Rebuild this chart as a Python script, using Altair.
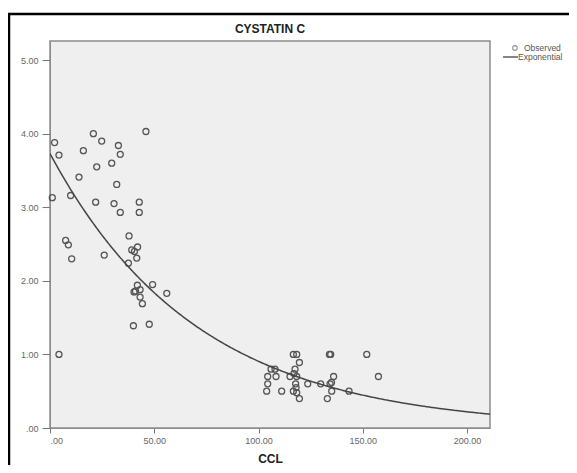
import altair as alt
import pandas as pd

ccl = [20.8, 46.0, 2.2, 24.8, 32.8, 16.0, 4.3, 33.7, 29.6, 22.4,
       13.9, 32.0, 1.1, 9.9, 21.9, 30.7, 42.8, 33.7, 42.8, 37.9,
       7.5, 8.8, 42.0, 39.2, 40.5, 10.4, 26.0, 41.6, 37.6, 41.9,
       49.2, 43.2, 40.3, 41.0, 56.0, 43.2, 44.3, 40.0, 47.6, 4.3,
       116.7, 118.3, 134.0, 134.6, 151.9, 119.6, 106.0, 107.9, 117.5, 104.4,
       108.4, 115.1, 118.3, 117.0, 136.0, 157.5, 104.4, 117.8, 123.6, 129.8,
       134.3, 135.0, 103.9, 111.1, 116.7, 118.3, 135.1, 143.4, 119.6, 133.0,
       118.0]
cystatin = [4.00, 4.03, 3.88, 3.90, 3.84, 3.77, 3.71, 3.72, 3.60, 3.55,
            3.41, 3.31, 3.13, 3.16, 3.07, 3.05, 3.07, 2.93, 2.93, 2.61,
            2.55, 2.49, 2.46, 2.42, 2.40, 2.30, 2.35, 2.31, 2.24, 1.94,
            1.95, 1.88, 1.85, 1.86, 1.83, 1.78, 1.69, 1.39, 1.41, 1.00,
            1.00, 1.00, 1.00, 1.00, 1.00, 0.89, 0.80, 0.80, 0.80, 0.70,
            0.70, 0.70, 0.70, 0.74, 0.70, 0.70, 0.60, 0.60, 0.60, 0.60,
            0.60, 0.62, 0.50, 0.50, 0.50, 0.48, 0.50, 0.50, 0.40, 0.40,
            0.55]

# Exponential fit coefficients: y = a * exp(b * x)
fit_a = 3.73
fit_b = -0.01415

x_ticks = [0, 50, 100, 150, 200]
y_ticks = [0, 1, 2, 3, 4, 5]
legend_labels = ["Observed", "Exponential"]
chart_title = "CYSTATIN C"

FONT = "Liberation Sans"
W, H = 440, 387

obs = pd.DataFrame({"CCL": ccl, "CYS": cystatin})

x_scale = alt.Scale(domain=[0, 211], nice=False, zero=False)
y_scale = alt.Scale(domain=[0, 5.26], nice=False, zero=False)

fmt = "datum.value == 0 ? '.00' : format(datum.value, '.2f')"

x_axis = alt.Axis(values=x_ticks, labelExpr=fmt, grid=False, title="CCL",
                  tickSize=5, tickColor="#777", domainColor="#8c8c8c",
                  labelColor="#666", labelFontSize=9, labelFont=FONT, labelPadding=3,
                  titleFont=FONT, titleFontSize=12, titleFontWeight="bold",
                  titleColor="#222", titleBaseline="alphabetic", titleY=34)
y_axis = alt.Axis(values=y_ticks, labelExpr=fmt, grid=False, title=None,
                  tickSize=8, tickColor="#777", domainColor="#8c8c8c",
                  labelColor="#666", labelFontSize=9, labelFont=FONT, labelPadding=4)

points = alt.Chart(obs).mark_point(
    shape="circle", filled=False, size=36, stroke="#555", strokeWidth=1.3, opacity=1
).encode(
    x=alt.X("CCL:Q", scale=x_scale, axis=x_axis),
    y=alt.Y("CYS:Q", scale=y_scale, axis=y_axis),
)

curve = alt.Chart(alt.sequence(0, 211.5, 0.5, as_="CCL")).transform_calculate(
    CYS=f"{fit_a} * exp({fit_b} * datum.CCL)"
).mark_line(color="#444", strokeWidth=1.5, clip=True).encode(
    x=alt.X("CCL:Q", scale=x_scale),
    y=alt.Y("CYS:Q", scale=y_scale),
)

one = alt.Data(values=[{"k": 0}])

title_txt = alt.Chart(alt.Data(values=[{"t": chart_title}])).mark_text(
    font=FONT, fontSize=12, fontWeight="bold", color="#222",
    align="center", baseline="middle"
).encode(text="t:N", x=alt.value(W / 2), y=alt.value(-12))

leg_pt = alt.Chart(one).mark_point(shape="circle", filled=False, size=22,
                                   stroke="#666", strokeWidth=1.1).encode(
    x=alt.value(465), y=alt.value(7))
leg_line = alt.Chart(one).mark_rule(color="#444", strokeWidth=1.3).encode(
    x=alt.value(453), x2=alt.value(468), y=alt.value(16))
leg_txt = alt.Chart(pd.DataFrame({"t": legend_labels, "yy": [7, 16], "xx": [474, 468]})).mark_text(
    align="left", baseline="middle", font=FONT, fontSize=8.5, color="#555"
).encode(text="t:N", x=alt.X("xx:Q", scale=None), y=alt.Y("yy:Q", scale=None))

frame_left = alt.Chart(one).mark_rule(color="black", strokeWidth=2.5).encode(
    x=alt.value(-41), y=alt.value(-28), y2=alt.value(428))
frame_top = alt.Chart(one).mark_rule(color="black", strokeWidth=2.5).encode(
    x=alt.value(-42), x2=alt.value(527), y=alt.value(-27))

chart = alt.layer(points, curve, title_txt, leg_pt, leg_line, leg_txt,
                  frame_left, frame_top).properties(
    width=W, height=H,
    autosize=alt.AutoSizeParams(type="none"),
    padding={"left": 42, "top": 33, "right": 79, "bottom": 37},
    background="white",
).configure_view(
    fill="#efefef", stroke="#8c8c8c", strokeWidth=1.5
)

chart.save("out.html", embed_options={"renderer": "svg", "actions": False})
